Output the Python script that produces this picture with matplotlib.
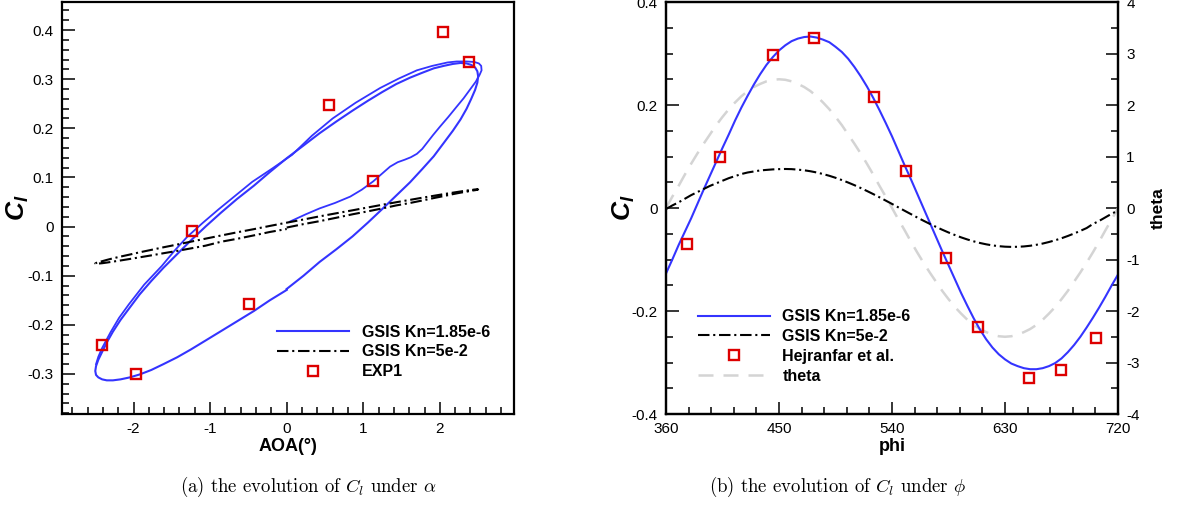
import numpy as np
import matplotlib
matplotlib.use("Agg")
import matplotlib.pyplot as plt
from matplotlib.ticker import MultipleLocator, FuncFormatter

plt.rcParams['font.family'] = 'Liberation Sans'
plt.rcParams['axes.unicode_minus'] = False
plt.rcParams['mathtext.fontset'] = 'custom'
plt.rcParams['mathtext.rm'] = 'Liberation Sans'
plt.rcParams['mathtext.it'] = 'Liberation Sans:italic'
plt.rcParams['mathtext.bf'] = 'Liberation Sans:bold'
plt.rcParams['mathtext.bfit'] = 'Liberation Sans:italic:bold'

# --- dados ---
# fase do movimento (graus), segundo ciclo, passo de 5 graus
phi = np.arange(360, 721, 5)

# angulo de arfagem theta (graus) em cada fase
theta = [0.0, 0.22, 0.43, 0.65, 0.86, 1.06, 1.25, 1.43, 1.61, 1.77, 1.92, 2.05, 2.17,
         2.27, 2.35, 2.41, 2.46, 2.49, 2.5, 2.49, 2.46, 2.41, 2.35, 2.27, 2.17, 2.05,
         1.92, 1.77, 1.61, 1.43, 1.25, 1.06, 0.86, 0.65, 0.43, 0.22, 0.0,
         -0.22, -0.43, -0.65, -0.86, -1.06, -1.25, -1.43, -1.61, -1.77, -1.92, -2.05, -2.17,
         -2.27, -2.35, -2.41, -2.46, -2.49, -2.5, -2.49, -2.46, -2.41, -2.35, -2.27, -2.17,
         -2.05, -1.92, -1.77, -1.61, -1.43, -1.25, -1.06, -0.86, -0.65, -0.43, -0.22, 0.0]

# Cl GSIS Kn=1.85e-6
cl_kn_small = [-0.127, -0.100, -0.072, -0.046, -0.020, 0.008, 0.036, 0.063, 0.090, 0.117,
               0.143, 0.170, 0.195, 0.218, 0.240, 0.260, 0.278, 0.293, 0.306, 0.316,
               0.324, 0.329, 0.332, 0.333, 0.331, 0.327, 0.322, 0.313, 0.303, 0.290,
               0.274, 0.256, 0.236, 0.214, 0.190, 0.165, 0.139, 0.111, 0.083, 0.056,
               0.028, 0.000, -0.028, -0.056, -0.084, -0.111, -0.138, -0.165, -0.190, -0.214,
               -0.236, -0.255, -0.271, -0.284, -0.294, -0.302, -0.307, -0.311, -0.313, -0.313,
               -0.311, -0.307, -0.301, -0.292, -0.280, -0.266, -0.250, -0.232, -0.213, -0.193,
               -0.172, -0.150, -0.129]

# Cl GSIS Kn=5e-2
cl_kn_large = [-0.002, 0.005, 0.011, 0.018, 0.025, 0.031, 0.037, 0.043, 0.048, 0.053,
               0.058, 0.062, 0.066, 0.069, 0.071, 0.073, 0.074, 0.075, 0.0755, 0.0758,
               0.0755, 0.0745, 0.0733, 0.0714, 0.069, 0.066, 0.0626, 0.0587, 0.0543, 0.0495,
               0.0444, 0.0389, 0.0331, 0.0271, 0.0208, 0.0144, 0.0079, 0.0013, -0.0053, -0.0118,
               -0.0183, -0.0246, -0.0307, -0.0366, -0.0422, -0.0475, -0.0524, -0.057, -0.0611,
               -0.0647, -0.0679, -0.0705, -0.0726, -0.0741, -0.0751, -0.0755, -0.0753, -0.0746,
               -0.0733, -0.0714, -0.069, -0.066, -0.0626, -0.0587, -0.0543, -0.0495, -0.0444,
               -0.0389, -0.031, -0.025, -0.018, -0.011, -0.005]

# primeiro ciclo (transiente) Kn=1.85e-6 no plano AOA x Cl
aoa_ciclo1 = [0.04, 0.25, 0.43, 0.63, 0.83, 0.98, 1.13, 1.24, 1.35, 1.45, 1.54, 1.62,
              1.70, 1.77, 1.83, 1.91, 2.00, 2.11, 2.22, 2.31, 2.39, 2.47, 2.52, 2.545,
              2.54, 2.51, 2.45, 2.35, 2.22, 2.10, 1.90, 1.70, 1.46, 1.22, 0.90, 0.60,
              0.33, 0.07, -0.19, -0.45, -0.67, -0.89, -1.10, -1.30, -1.47, -1.63, -1.86,
              -2.06, -2.19, -2.30, -2.41, -2.46, -2.49]
cl_ciclo1 = [0.010, 0.025, 0.037, 0.048, 0.061, 0.075, 0.092, 0.107, 0.122, 0.131, 0.136, 0.141,
             0.148, 0.158, 0.170, 0.186, 0.203, 0.223, 0.244, 0.261, 0.278, 0.295, 0.309, 0.318,
             0.327, 0.332, 0.335, 0.336, 0.336, 0.334, 0.327, 0.318, 0.301, 0.282, 0.252, 0.220,
             0.185, 0.146, 0.118, 0.091, 0.063, 0.035, 0.007, -0.021, -0.050, -0.080, -0.118,
             -0.158, -0.186, -0.215, -0.247, -0.265, -0.280]

# experimento EXP1
aoa_exp = [2.045, 2.384, 0.557, 1.127, -1.232, -0.496, -2.407, -1.963]
cl_exp = [0.395, 0.334, 0.248, 0.093, -0.009, -0.158, -0.242, -0.300]

# Hejranfar et al.
phi_hej = [376.8, 402.8, 445.0, 477.9, 525.5, 551.4, 582.6, 608.5, 649.0, 674.8, 702.1]
cl_hej = [-0.070, 0.100, 0.297, 0.331, 0.216, 0.072, -0.098, -0.232, -0.330, -0.314, -0.252]

azul = '#3434ff'
vermelho = '#dd0000'
cinza = '#d4d4d4'
traco_ponto = (0, (5.5, 1.8, 1.0, 1.8))
fonte_leg = {'weight': 'bold', 'size': 11.5}


def fmt(v, pos):
    return '%g' % round(v, 6)


def estilo_eixo(ax):
    for s in ax.spines.values():
        s.set_linewidth(1.6)
    ax.tick_params(which='both', direction='in', top=False, right=False,
                   labelsize=11, width=1.1, pad=6)
    ax.tick_params(which='major', length=9)
    ax.tick_params(which='minor', length=5)
    ax.xaxis.set_major_formatter(FuncFormatter(fmt))
    ax.yaxis.set_major_formatter(FuncFormatter(fmt))


fig = plt.figure(figsize=(11.78, 5.19), dpi=100)
ax1 = fig.add_axes([0.0526, 0.2023, 0.3837, 0.7938])
ax2 = fig.add_axes([0.5654, 0.2023, 0.3837, 0.7938])

# (a) Cl x AOA
ax1.plot(aoa_ciclo1, cl_ciclo1, color=azul, lw=1.3)
ax1.plot(theta, cl_kn_small, color=azul, lw=1.5, label='GSIS Kn=1.85e-6')
ax1.plot(theta, cl_kn_large, color='black', lw=1.5, ls=traco_ponto, label='GSIS Kn=5e-2')
ax1.plot(aoa_exp, cl_exp, ls='none', marker='s', ms=7.5, mfc='none', mec=vermelho,
         mew=1.7, label='EXP1')
ax1.set_xlim(-2.935, 2.968)
ax1.set_ylim(-0.3815, 0.457)
ax1.xaxis.set_major_locator(MultipleLocator(1))
ax1.xaxis.set_minor_locator(MultipleLocator(0.2))
ax1.yaxis.set_major_locator(MultipleLocator(0.1))
ax1.yaxis.set_minor_locator(MultipleLocator(0.02))
estilo_eixo(ax1)
ax1.set_xlabel('AOA(°)', fontsize=13, fontweight='bold', labelpad=1)
ax1.set_ylabel(r'$\mathbfit{C_l}$', fontsize=19, labelpad=-2.5)
ax1.legend(loc='center left', bbox_to_anchor=(277 / 1178, 1 - 352 / 519),
           bbox_transform=fig.transFigure, frameon=False, prop=fonte_leg,
           handlelength=4.5, handletextpad=0.8, labelspacing=0.3,
           borderpad=0, borderaxespad=0)

# (b) Cl x phi com theta no eixo da direita
ax2t = ax2.twinx()
ax2t.set_zorder(ax2.get_zorder() - 1)
ax2.patch.set_visible(False)
l_theta, = ax2t.plot(phi, theta, color=cinza, lw=1.8, ls=(0, (6, 4)), label='theta')
l1, = ax2.plot(phi, cl_kn_small, color=azul, lw=1.5, label='GSIS Kn=1.85e-6')
l2, = ax2.plot(phi, cl_kn_large, color='black', lw=1.5, ls=traco_ponto, label='GSIS Kn=5e-2')
l3, = ax2.plot(phi_hej, cl_hej, ls='none', marker='s', ms=7.5, mfc='none', mec=vermelho,
               mew=1.7, label='Hejranfar et al.')
ax2.set_xlim(360, 720)
ax2.set_ylim(-0.4, 0.4)
ax2t.set_ylim(-4, 4)
ax2.xaxis.set_major_locator(MultipleLocator(90))
ax2.xaxis.set_minor_locator(MultipleLocator(18))
ax2.yaxis.set_major_locator(MultipleLocator(0.2))
ax2.yaxis.set_minor_locator(MultipleLocator(0.05))
estilo_eixo(ax2)
ax2t.yaxis.set_major_locator(MultipleLocator(1))
ax2t.yaxis.set_minor_locator(MultipleLocator(0.5))
ax2t.tick_params(which='both', direction='in', labelsize=11, width=1.1, pad=6)
ax2t.tick_params(which='major', length=9)
ax2t.tick_params(which='minor', length=5)
ax2t.yaxis.set_major_formatter(FuncFormatter(fmt))
for s in ax2t.spines.values():
    s.set_linewidth(1.6)
ax2.set_xlabel('phi', fontsize=13, fontweight='bold', labelpad=1)
ax2.set_ylabel(r'$\mathbfit{C_l}$', fontsize=19, labelpad=-4)
ax2t.set_ylabel('theta', fontsize=12.5, fontweight='bold', labelpad=8)
ax2.legend(handles=[l1, l2, l3, l_theta], loc='center left',
           bbox_to_anchor=(697.7 / 1178, 1 - 346.4 / 519), bbox_transform=fig.transFigure,
           frameon=False, prop=fonte_leg, handlelength=4.5, handletextpad=0.8,
           labelspacing=0.3, borderpad=0, borderaxespad=0)

# legendas das subfiguras
fig.text(0.2615, 0.062, r'(a) the evolution of $C_l$ under $\alpha$', family='cmr10',
         math_fontfamily='cm', fontsize=13.5, ha='center', va='center')
fig.text(0.7114, 0.062, r'(b) the evolution of $C_l$ under $\phi$', family='cmr10',
         math_fontfamily='cm', fontsize=13.5, ha='center', va='center')

fig.savefig('out.png', dpi=100)
